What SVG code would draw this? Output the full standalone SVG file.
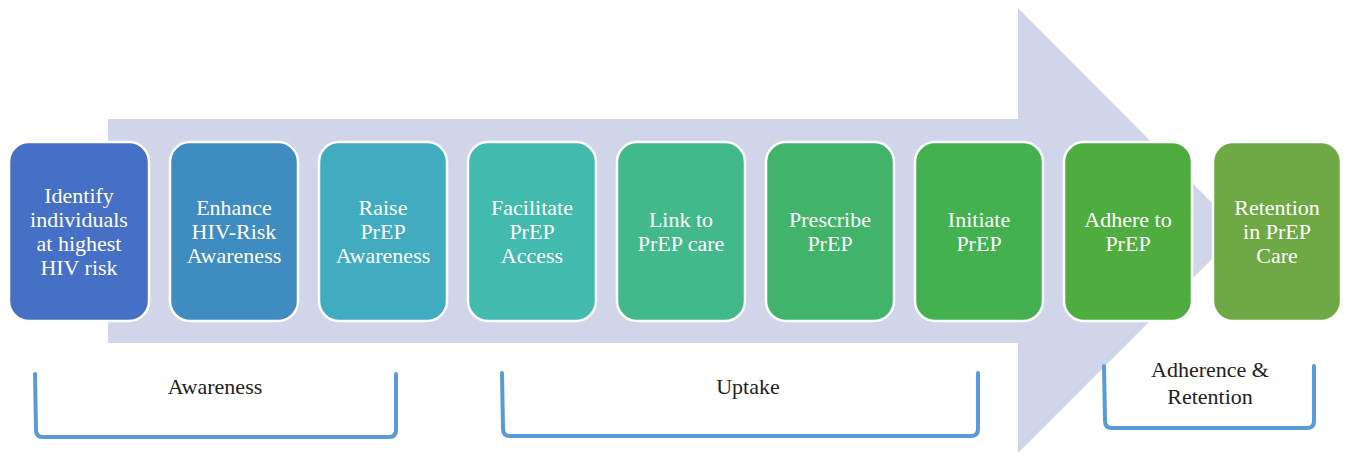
<svg xmlns="http://www.w3.org/2000/svg" width="1350" height="456" viewBox="0 0 1350 456">
<style>
.box{stroke:#ffffff;stroke-width:2.5}
.t{font-size:22px;fill:#ffffff;text-anchor:middle}
.l{font-size:22px;fill:#222222;text-anchor:middle}
.br{fill:none;stroke:#5B9BD5;stroke-width:4;stroke-linejoin:round;stroke-linecap:round}
</style>
<rect width="1350" height="456" fill="#ffffff"/>
<g id="arrow">
<polygon points="108,119 1018,119 1018,8 1240,231 1018,453 1018,343 108,343" fill="#D0D5EA"/>
</g>
<g font-family="Liberation Serif, serif">
<g id="n1"><rect class="box" x="9" y="142" width="140" height="179" rx="20" fill="#4670C6"/>
<text class="t" x="79" y="203">Identify</text><text class="t" x="79" y="227">individuals</text><text class="t" x="79" y="251">at highest</text><text class="t" x="79" y="275">HIV risk</text></g>
<g id="n2"><rect class="box" x="170" y="142" width="128" height="179" rx="20" fill="#3F8CC0"/>
<text class="t" x="234" y="215">Enhance</text><text class="t" x="234" y="239">HIV-Risk</text><text class="t" x="234" y="263">Awareness</text></g>
<g id="n3"><rect class="box" x="319" y="142" width="128" height="179" rx="20" fill="#41ACBF"/>
<text class="t" x="383" y="215">Raise</text><text class="t" x="383" y="239">PrEP</text><text class="t" x="383" y="263">Awareness</text></g>
<g id="n4"><rect class="box" x="468" y="142" width="128" height="179" rx="20" fill="#42BAAD"/>
<text class="t" x="532" y="215">Facilitate</text><text class="t" x="532" y="239">PrEP</text><text class="t" x="532" y="263">Access</text></g>
<g id="n5"><rect class="box" x="617" y="142" width="128" height="179" rx="20" fill="#42B98A"/>
<text class="t" x="681" y="227">Link to</text><text class="t" x="681" y="251">PrEP care</text></g>
<g id="n6"><rect class="box" x="766" y="142" width="128" height="179" rx="20" fill="#41B36A"/>
<text class="t" x="830" y="227">Prescribe</text><text class="t" x="830" y="251">PrEP</text></g>
<g id="n7"><rect class="box" x="915" y="142" width="128" height="179" rx="20" fill="#43B150"/>
<text class="t" x="979" y="227">Initiate</text><text class="t" x="979" y="251">PrEP</text></g>
<g id="n8"><rect class="box" x="1064" y="142" width="128" height="179" rx="20" fill="#4FAD40"/>
<text class="t" x="1128" y="227">Adhere to</text><text class="t" x="1128" y="251">PrEP</text></g>
<g id="n9"><rect class="box" x="1213" y="142" width="128" height="179" rx="20" fill="#6FA945"/>
<text class="t" x="1277" y="215">Retention</text><text class="t" x="1277" y="239">in PrEP</text><text class="t" x="1277" y="263">Care</text></g>
</g>
<g id="connectors">
<path class="br" d="M35,374 L36,430 Q36,437 43,437 L389,437 Q396,437 396,430 L396,374"/>
<path class="br" d="M502,373 L503,429 Q503,436 510,436 L971,436 Q978,436 978,429 L978,373"/>
<path class="br" d="M1104,366 L1105,421 Q1105,428 1112,428 L1307,428 Q1314,428 1314,421 L1314,366"/>
</g>
<g id="labels" font-family="Liberation Serif, serif">
<text class="l" x="215" y="394">Awareness</text>
<text class="l" x="748" y="394">Uptake</text>
<text class="l" x="1210" y="377">Adherence &amp;</text>
<text class="l" x="1210" y="404">Retention</text>
</g>
</svg>
